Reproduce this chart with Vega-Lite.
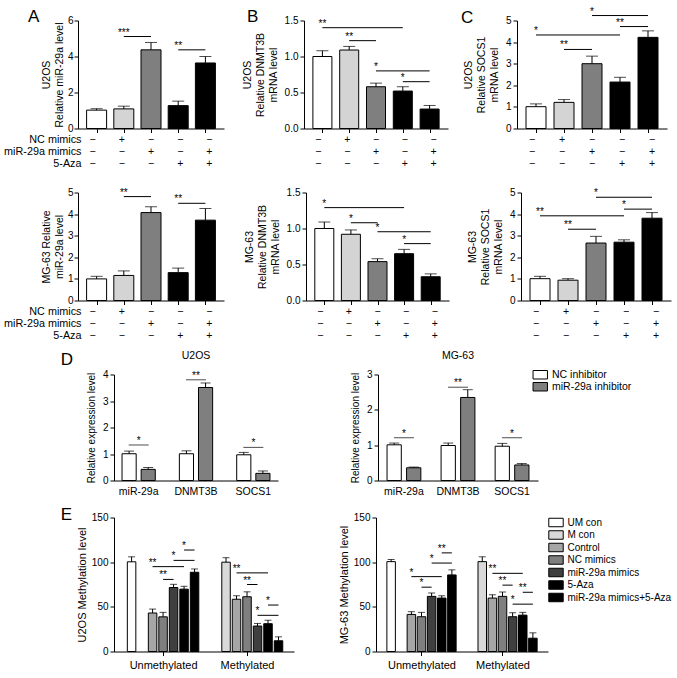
{
"$schema":"https://vega.github.io/schema/vega-lite/v6.json",
"padding":{"left":3,"top":6.5,"right":0,"bottom":0},
"config":{"font":"Liberation Sans","view":{"stroke":null},
"axis":{"domainColor":"#000","tickColor":"#000","labelColor":"#000","titleColor":"#000","grid":false,"labelFontSize":10,"titleFontSize":10.5,"titleFontWeight":"normal","tickSize":4,"labelPadding":2,"titlePadding":6,"titleLineHeight":13,"domainWidth":1,"tickWidth":1,"labelFont":"Liberation Sans","titleFont":"Liberation Sans","labelOverlap":false,"labelFlush":false},
"title":{"fontWeight":"normal","color":"#000","font":"Liberation Sans"},
"legend":{"labelColor":"#000","labelFont":"Liberation Sans"}},
"datasets":{
"mx":[{"pos":1,"row":"NC mimics","sign":"−"},{"pos":1,"row":"miR-29a mimics","sign":"−"},{"pos":1,"row":"5-Aza","sign":"−"},{"pos":2,"row":"NC mimics","sign":"+"},{"pos":2,"row":"miR-29a mimics","sign":"−"},{"pos":2,"row":"5-Aza","sign":"−"},{"pos":3,"row":"NC mimics","sign":"−"},{"pos":3,"row":"miR-29a mimics","sign":"+"},{"pos":3,"row":"5-Aza","sign":"−"},{"pos":4,"row":"NC mimics","sign":"−"},{"pos":4,"row":"miR-29a mimics","sign":"−"},{"pos":4,"row":"5-Aza","sign":"+"},{"pos":5,"row":"NC mimics","sign":"−"},{"pos":5,"row":"miR-29a mimics","sign":"+"},{"pos":5,"row":"5-Aza","sign":"+"}],
"a1":[{"pos":1,"cond":"Control","mean":1.02,"upper":1.10},{"pos":2,"cond":"NC mimics","mean":1.09,"upper":1.24},{"pos":3,"cond":"miR-29a mimics","mean":4.37,"upper":4.78},{"pos":4,"cond":"5-Aza","mean":1.27,"upper":1.52},{"pos":5,"cond":"miR-29a mimics+5-Aza","mean":3.64,"upper":4.00}],
"a2":[{"pos":1,"cond":"Control","mean":1.00,"upper":1.12},{"pos":2,"cond":"NC mimics","mean":1.16,"upper":1.37},{"pos":3,"cond":"miR-29a mimics","mean":4.07,"upper":4.34},{"pos":4,"cond":"5-Aza","mean":1.29,"upper":1.50},{"pos":5,"cond":"miR-29a mimics+5-Aza","mean":3.72,"upper":4.26}],
"b1":[{"pos":1,"cond":"Control","mean":1.00,"upper":1.08},{"pos":2,"cond":"NC mimics","mean":1.09,"upper":1.14},{"pos":3,"cond":"miR-29a mimics","mean":0.58,"upper":0.63},{"pos":4,"cond":"5-Aza","mean":0.52,"upper":0.58},{"pos":5,"cond":"miR-29a mimics+5-Aza","mean":0.27,"upper":0.32}],
"b2":[{"pos":1,"cond":"Control","mean":1.00,"upper":1.09},{"pos":2,"cond":"NC mimics","mean":0.92,"upper":0.98},{"pos":3,"cond":"miR-29a mimics","mean":0.54,"upper":0.58},{"pos":4,"cond":"5-Aza","mean":0.65,"upper":0.71},{"pos":5,"cond":"miR-29a mimics+5-Aza","mean":0.33,"upper":0.37}],
"c1":[{"pos":1,"cond":"Control","mean":1.01,"upper":1.14},{"pos":2,"cond":"NC mimics","mean":1.21,"upper":1.34},{"pos":3,"cond":"miR-29a mimics","mean":3.00,"upper":3.35},{"pos":4,"cond":"5-Aza","mean":2.15,"upper":2.37},{"pos":5,"cond":"miR-29a mimics+5-Aza","mean":4.22,"upper":4.52}],
"c2":[{"pos":1,"cond":"Control","mean":1.01,"upper":1.12},{"pos":2,"cond":"NC mimics","mean":0.94,"upper":1.01},{"pos":3,"cond":"miR-29a mimics","mean":2.66,"upper":2.97},{"pos":4,"cond":"5-Aza","mean":2.70,"upper":2.81},{"pos":5,"cond":"miR-29a mimics+5-Aza","mean":3.81,"upper":4.07}],
"sa1":[{"from":2,"to":3,"y":5.11,"label":"***"},{"from":4,"to":5,"y":4.37,"label":"**"}],
"sa2":[{"from":2,"to":3,"y":4.81,"label":"**"},{"from":4,"to":5,"y":4.5,"label":"**"}],
"sb1":[{"from":1,"to":4,"y":1.40,"label":"**"},{"from":2,"to":3,"y":1.22,"label":"**"},{"from":3,"to":5,"y":0.80,"label":"*"},{"from":4,"to":5,"y":0.65,"label":"*"}],
"sb2":[{"from":1,"to":4,"y":1.29,"label":"*"},{"from":2,"to":3,"y":1.08,"label":"*"},{"from":3,"to":5,"y":0.955,"label":"*"},{"from":4,"to":5,"y":0.79,"label":"*"}],
"sc1":[{"from":3,"to":5,"y":5.23,"label":"*"},{"from":4,"to":5,"y":4.72,"label":"**"},{"from":1,"to":4,"y":4.33,"label":"*"},{"from":2,"to":3,"y":3.66,"label":"**"}],
"sc2":[{"from":3,"to":5,"y":4.78,"label":"*"},{"from":4,"to":5,"y":4.23,"label":"*"},{"from":1,"to":4,"y":3.92,"label":"**"},{"from":2,"to":3,"y":3.30,"label":"**"}],
"d1":[{"gene":"miR-29a","grp":"NC inhibitor","mean":1.01,"upper":1.11},{"gene":"miR-29a","grp":"miR-29a inhibitor","mean":0.42,"upper":0.49},{"gene":"DNMT3B","grp":"NC inhibitor","mean":1.01,"upper":1.12},{"gene":"DNMT3B","grp":"miR-29a inhibitor","mean":3.51,"upper":3.68},{"gene":"SOCS1","grp":"NC inhibitor","mean":0.97,"upper":1.06},{"gene":"SOCS1","grp":"miR-29a inhibitor","mean":0.27,"upper":0.36}],
"d2":[{"gene":"miR-29a","grp":"NC inhibitor","mean":1.01,"upper":1.06},{"gene":"miR-29a","grp":"miR-29a inhibitor","mean":0.36,"upper":0.38},{"gene":"DNMT3B","grp":"NC inhibitor","mean":0.99,"upper":1.06},{"gene":"DNMT3B","grp":"miR-29a inhibitor","mean":2.35,"upper":2.57},{"gene":"SOCS1","grp":"NC inhibitor","mean":0.97,"upper":1.05},{"gene":"SOCS1","grp":"miR-29a inhibitor","mean":0.44,"upper":0.48}],
"ds1":[{"gene":"miR-29a","y":1.34,"label":"*"},{"gene":"DNMT3B","y":3.80,"label":"**"},{"gene":"SOCS1","y":1.25,"label":"*"}],
"ds2":[{"gene":"miR-29a","y":1.21,"label":"*"},{"gene":"DNMT3B","y":2.64,"label":"**"},{"gene":"SOCS1","y":1.21,"label":"*"}],
"e1":[{"status":"Unmethylated","cond":"UM con","pos":1,"mean":100.4,"upper":106},{"status":"Unmethylated","cond":"Control","pos":3,"mean":43.1,"upper":47.5},{"status":"Unmethylated","cond":"NC mimics","pos":4,"mean":38.8,"upper":43.8},{"status":"Unmethylated","cond":"miR-29a mimics","pos":5,"mean":71.6,"upper":75.2},{"status":"Unmethylated","cond":"5-Aza","pos":6,"mean":69.8,"upper":73},{"status":"Unmethylated","cond":"miR-29a mimics+5-Aza","pos":7,"mean":88.7,"upper":92.4},{"status":"Methylated","cond":"M con","pos":10,"mean":100,"upper":105},{"status":"Methylated","cond":"Control","pos":11,"mean":58.5,"upper":62.4},{"status":"Methylated","cond":"NC mimics","pos":12,"mean":61.3,"upper":66.8},{"status":"Methylated","cond":"miR-29a mimics","pos":13,"mean":28.5,"upper":31.4},{"status":"Methylated","cond":"5-Aza","pos":14,"mean":31.1,"upper":35},{"status":"Methylated","cond":"miR-29a mimics+5-Aza","pos":15,"mean":12,"upper":16.4}],
"e2":[{"status":"Unmethylated","cond":"UM con","pos":1,"mean":100.6,"upper":103},{"status":"Unmethylated","cond":"Control","pos":3,"mean":41.5,"upper":44.6},{"status":"Unmethylated","cond":"NC mimics","pos":4,"mean":38.9,"upper":43.8},{"status":"Unmethylated","cond":"miR-29a mimics","pos":5,"mean":61.7,"upper":65.5},{"status":"Unmethylated","cond":"5-Aza","pos":6,"mean":59.8,"upper":62.4},{"status":"Unmethylated","cond":"miR-29a mimics+5-Aza","pos":7,"mean":85.7,"upper":91.4},{"status":"Methylated","cond":"M con","pos":10,"mean":100.6,"upper":106},{"status":"Methylated","cond":"Control","pos":11,"mean":59.8,"upper":63.5},{"status":"Methylated","cond":"NC mimics","pos":12,"mean":61.7,"upper":66.6},{"status":"Methylated","cond":"miR-29a mimics","pos":13,"mean":38.9,"upper":43.4},{"status":"Methylated","cond":"5-Aza","pos":14,"mean":40.7,"upper":43.8},{"status":"Methylated","cond":"miR-29a mimics+5-Aza","pos":15,"mean":14.9,"upper":20.9}],
"es1":[{"from":3,"to":6,"y":95,"label":"**"},{"from":4,"to":5,"y":80.7,"label":"**"},{"from":5,"to":7,"y":102,"label":"*"},{"from":6,"to":7,"y":113.6,"label":"*"},{"from":11,"to":14,"y":88,"label":"**"},{"from":12,"to":13,"y":75,"label":"**"},{"from":13,"to":15,"y":40.5,"label":"*"},{"from":14,"to":15,"y":52,"label":"*"}],
"es2":[{"from":3,"to":6,"y":83.8,"label":"*"},{"from":4,"to":5,"y":72,"label":"*"},{"from":5,"to":7,"y":99,"label":"*"},{"from":6,"to":7,"y":110.4,"label":"**"},{"from":11,"to":14,"y":87.5,"label":"**"},{"from":12,"to":13,"y":74.3,"label":"**"},{"from":13,"to":15,"y":53,"label":"*"},{"from":14,"to":15,"y":66.3,"label":"**"}]
},
"resolve":{"scale":{"color":"independent"}},
"spacing":9,
"vconcat":[
{"spacing":18,"resolve":{"scale":{"color":"independent"}},"vconcat":[
 {"spacing":12,"resolve":{"scale":{"color":"independent"}},"hconcat":[
  {"spacing":18,"resolve":{"scale":{"color":"independent"}},"hconcat":[
   {"spacing":0,"vconcat":[
    {"width":146,"height":108,"resolve":{"axis":{"x":"independent","y":"independent"}},
     "layer":[
      {"data":{"name":"a1"},"mark":{"type":"bar","orient":"vertical","width":20,"stroke":"#000","strokeWidth":1},
       "encoding":{"x":{"field":"pos","type":"quantitative","scale":{"domain":[0.5,5.5]},"axis":{"values":[1,2,3,4,5],"labels":false,"title":null}},
        "y":{"field":"mean","type":"quantitative","scale":{"domain":[0,6]},"axis":{"values":[0,2,4,6],"title":["U2OS","Relative miR-29a level"],"titlePadding":3,"labelPadding":1}},
        "color":{"field":"cond","type":"nominal","scale":{"domain":["Control","NC mimics","miR-29a mimics","5-Aza","miR-29a mimics+5-Aza"],"range":["#ffffff","#d4d4d4","#7f7f7f","#000000","#000000"]},"legend":null}}},
      {"data":{"name":"a1"},"mark":{"type":"rule","color":"#000","strokeWidth":1},"encoding":{"x":{"field":"pos","type":"quantitative","scale":{"domain":[0.5,5.5]},"axis":null},"y":{"field":"mean","type":"quantitative","scale":{"domain":[0,6]},"axis":null},"y2":{"field":"upper"}}},
      {"data":{"name":"a1"},"mark":{"type":"tick","orient":"horizontal","size":12,"thickness":1,"color":"#000"},"encoding":{"x":{"field":"pos","type":"quantitative","scale":{"domain":[0.5,5.5]},"axis":null},"y":{"field":"upper","type":"quantitative","scale":{"domain":[0,6]},"axis":null}}},
      {"data":{"name":"sa1"},"mark":{"type":"rule","color":"#000","strokeWidth":1},"encoding":{"x":{"field":"from","type":"quantitative","scale":{"domain":[0.5,5.5]},"axis":null},"x2":{"field":"to"},"y":{"field":"y","type":"quantitative","scale":{"domain":[0,6]},"axis":null}}},
      {"data":{"name":"sa1"},"mark":{"type":"text","color":"#000","fontSize":10,"baseline":"alphabetic","dy":-1},"encoding":{"x":{"field":"from","type":"quantitative","bin":"binned","scale":{"domain":[0.5,5.5]},"axis":null},"x2":{"field":"to"},"y":{"field":"y","type":"quantitative","scale":{"domain":[0,6]},"axis":null},"text":{"field":"label"}}},
      {"data":{"values":[{"t":"A"}]},"mark":{"type":"text","color":"#000","fontSize":17,"align":"left","baseline":"alphabetic","dx":-55,"dy":1},"encoding":{"x":{"datum":0.5,"type":"quantitative","scale":{"domain":[0.5,5.5]},"axis":null},"y":{"datum":6,"type":"quantitative","scale":{"domain":[0,6]},"axis":null},"text":{"field":"t"}}}
     ]},
    {"data":{"name":"mx"},"width":146,"height":36,"mark":{"type":"text","fontSize":10.5,"color":"#000"},
     "encoding":{"x":{"field":"pos","type":"quantitative","scale":{"domain":[0.5,5.5]},"axis":null},
      "y":{"field":"row","type":"nominal","sort":["NC mimics","miR-29a mimics","5-Aza"],"axis":{"title":null,"domain":false,"ticks":false,"tickSize":0,"labelPadding":-3,"labelFontSize":10.8}},
      "text":{"field":"sign"}}}
   ]},
   {"spacing":0,"vconcat":[
    {"width":144,"height":108,"resolve":{"axis":{"x":"independent","y":"independent"}},
     "layer":[
      {"data":{"name":"b1"},"mark":{"type":"bar","orient":"vertical","width":19,"stroke":"#000","strokeWidth":1},
       "encoding":{"x":{"field":"pos","type":"quantitative","scale":{"domain":[0.5,5.5]},"axis":{"values":[1,2,3,4,5],"labels":false,"title":null}},
        "y":{"field":"mean","type":"quantitative","scale":{"domain":[0,1.5]},"axis":{"values":[0,0.5,1,1.5],"format":".1f","title":["U2OS","Relative DNMT3B","mRNA level"]}},
        "color":{"field":"cond","type":"nominal","scale":{"domain":["Control","NC mimics","miR-29a mimics","5-Aza","miR-29a mimics+5-Aza"],"range":["#ffffff","#d4d4d4","#7f7f7f","#000000","#000000"]},"legend":null}}},
      {"data":{"name":"b1"},"mark":{"type":"rule","color":"#000","strokeWidth":1},"encoding":{"x":{"field":"pos","type":"quantitative","scale":{"domain":[0.5,5.5]},"axis":null},"y":{"field":"mean","type":"quantitative","scale":{"domain":[0,1.5]},"axis":null},"y2":{"field":"upper"}}},
      {"data":{"name":"b1"},"mark":{"type":"tick","orient":"horizontal","size":12,"thickness":1,"color":"#000"},"encoding":{"x":{"field":"pos","type":"quantitative","scale":{"domain":[0.5,5.5]},"axis":null},"y":{"field":"upper","type":"quantitative","scale":{"domain":[0,1.5]},"axis":null}}},
      {"data":{"name":"sb1"},"mark":{"type":"rule","color":"#000","strokeWidth":1},"encoding":{"x":{"field":"from","type":"quantitative","scale":{"domain":[0.5,5.5]},"axis":null},"x2":{"field":"to"},"y":{"field":"y","type":"quantitative","scale":{"domain":[0,1.5]},"axis":null}}},
      {"data":{"name":"sb1"},"mark":{"type":"text","color":"#000","fontSize":10,"baseline":"alphabetic","dy":-1},"encoding":{"x":{"field":"from","type":"quantitative","bin":"binned","scale":{"domain":[0.5,5.5]},"axis":null},"x2":{"field":"to"},"y":{"field":"y","type":"quantitative","scale":{"domain":[0,1.5]},"axis":null},"text":{"field":"label"}}},
      {"data":{"values":[{"t":"B"}]},"mark":{"type":"text","color":"#000","fontSize":17,"align":"left","baseline":"alphabetic","dx":-62,"dy":1},"encoding":{"x":{"datum":0.5,"type":"quantitative","scale":{"domain":[0.5,5.5]},"axis":null},"y":{"datum":1.5,"type":"quantitative","scale":{"domain":[0,1.5]},"axis":null},"text":{"field":"t"}}}
     ]},
    {"data":{"name":"mx"},"width":144,"height":36,"mark":{"type":"text","fontSize":10.5,"color":"#000"},
     "encoding":{"x":{"field":"pos","type":"quantitative","scale":{"domain":[0.5,5.5]},"axis":null},
      "y":{"field":"row","type":"nominal","sort":["NC mimics","miR-29a mimics","5-Aza"],"axis":null},
      "text":{"field":"sign"}}}
   ]}
  ]},
  {"spacing":0,"vconcat":[
   {"width":150,"height":108,"resolve":{"axis":{"x":"independent","y":"independent"}},
    "layer":[
     {"data":{"name":"c1"},"mark":{"type":"bar","orient":"vertical","width":20,"stroke":"#000","strokeWidth":1},
      "encoding":{"x":{"field":"pos","type":"quantitative","scale":{"domain":[0.5,5.5]},"axis":{"values":[1,2,3,4,5],"labels":false,"title":null}},
       "y":{"field":"mean","type":"quantitative","scale":{"domain":[0,5]},"axis":{"values":[0,1,2,3,4,5],"title":["U2OS","Relative SOCS1","mRNA level"]}},
       "color":{"field":"cond","type":"nominal","scale":{"domain":["Control","NC mimics","miR-29a mimics","5-Aza","miR-29a mimics+5-Aza"],"range":["#ffffff","#d4d4d4","#7f7f7f","#000000","#000000"]},"legend":null}}},
     {"data":{"name":"c1"},"mark":{"type":"rule","color":"#000","strokeWidth":1},"encoding":{"x":{"field":"pos","type":"quantitative","scale":{"domain":[0.5,5.5]},"axis":null},"y":{"field":"mean","type":"quantitative","scale":{"domain":[0,5]},"axis":null},"y2":{"field":"upper"}}},
     {"data":{"name":"c1"},"mark":{"type":"tick","orient":"horizontal","size":12,"thickness":1,"color":"#000"},"encoding":{"x":{"field":"pos","type":"quantitative","scale":{"domain":[0.5,5.5]},"axis":null},"y":{"field":"upper","type":"quantitative","scale":{"domain":[0,5]},"axis":null}}},
     {"data":{"name":"sc1"},"mark":{"type":"rule","color":"#000","strokeWidth":1},"encoding":{"x":{"field":"from","type":"quantitative","scale":{"domain":[0.5,5.5]},"axis":null},"x2":{"field":"to"},"y":{"field":"y","type":"quantitative","scale":{"domain":[0,5]},"axis":null}}},
     {"data":{"name":"sc1"},"mark":{"type":"text","color":"#000","fontSize":10,"baseline":"alphabetic","dy":-1},"encoding":{"x":{"field":"from","type":"quantitative","bin":"binned","scale":{"domain":[0.5,5.5]},"axis":null},"x2":{"field":"to"},"y":{"field":"y","type":"quantitative","scale":{"domain":[0,5]},"axis":null},"text":{"field":"label"}}},
     {"data":{"values":[{"t":"C"}]},"mark":{"type":"text","color":"#000","fontSize":17,"align":"left","baseline":"alphabetic","dx":-61,"dy":2.5},"encoding":{"x":{"datum":0.5,"type":"quantitative","scale":{"domain":[0.5,5.5]},"axis":null},"y":{"datum":5,"type":"quantitative","scale":{"domain":[0,5]},"axis":null},"text":{"field":"t"}}}
    ]},
   {"data":{"name":"mx"},"width":150,"height":36,"mark":{"type":"text","fontSize":10.5,"color":"#000"},
    "encoding":{"x":{"field":"pos","type":"quantitative","scale":{"domain":[0.5,5.5]},"axis":null},
     "y":{"field":"row","type":"nominal","sort":["NC mimics","miR-29a mimics","5-Aza"],"axis":null},
     "text":{"field":"sign"}}}
  ]}
 ]},
 {"spacing":18,"resolve":{"scale":{"color":"independent"}},"hconcat":[
  {"spacing":20,"resolve":{"scale":{"color":"independent"}},"hconcat":[
   {"spacing":0,"vconcat":[
    {"width":146,"height":108,"resolve":{"axis":{"x":"independent","y":"independent"}},
     "layer":[
      {"data":{"name":"a2"},"mark":{"type":"bar","orient":"vertical","width":20,"stroke":"#000","strokeWidth":1},
       "encoding":{"x":{"field":"pos","type":"quantitative","scale":{"domain":[0.5,5.5]},"axis":{"values":[1,2,3,4,5],"labels":false,"title":null}},
        "y":{"field":"mean","type":"quantitative","scale":{"domain":[0,5]},"axis":{"values":[0,1,2,3,4,5],"title":["MG-63 Relative","miR-29a level"],"titlePadding":3,"labelPadding":1}},
        "color":{"field":"cond","type":"nominal","scale":{"domain":["Control","NC mimics","miR-29a mimics","5-Aza","miR-29a mimics+5-Aza"],"range":["#ffffff","#d4d4d4","#7f7f7f","#000000","#000000"]},"legend":null}}},
      {"data":{"name":"a2"},"mark":{"type":"rule","color":"#000","strokeWidth":1},"encoding":{"x":{"field":"pos","type":"quantitative","scale":{"domain":[0.5,5.5]},"axis":null},"y":{"field":"mean","type":"quantitative","scale":{"domain":[0,5]},"axis":null},"y2":{"field":"upper"}}},
      {"data":{"name":"a2"},"mark":{"type":"tick","orient":"horizontal","size":12,"thickness":1,"color":"#000"},"encoding":{"x":{"field":"pos","type":"quantitative","scale":{"domain":[0.5,5.5]},"axis":null},"y":{"field":"upper","type":"quantitative","scale":{"domain":[0,5]},"axis":null}}},
      {"data":{"name":"sa2"},"mark":{"type":"rule","color":"#000","strokeWidth":1},"encoding":{"x":{"field":"from","type":"quantitative","scale":{"domain":[0.5,5.5]},"axis":null},"x2":{"field":"to"},"y":{"field":"y","type":"quantitative","scale":{"domain":[0,5]},"axis":null}}},
      {"data":{"name":"sa2"},"mark":{"type":"text","color":"#000","fontSize":10,"baseline":"alphabetic","dy":-1},"encoding":{"x":{"field":"from","type":"quantitative","bin":"binned","scale":{"domain":[0.5,5.5]},"axis":null},"x2":{"field":"to"},"y":{"field":"y","type":"quantitative","scale":{"domain":[0,5]},"axis":null},"text":{"field":"label"}}}
     ]},
    {"data":{"name":"mx"},"width":146,"height":36,"mark":{"type":"text","fontSize":10.5,"color":"#000"},
     "encoding":{"x":{"field":"pos","type":"quantitative","scale":{"domain":[0.5,5.5]},"axis":null},
      "y":{"field":"row","type":"nominal","sort":["NC mimics","miR-29a mimics","5-Aza"],"axis":{"title":null,"domain":false,"ticks":false,"tickSize":0,"labelPadding":-3,"labelFontSize":10.8}},
      "text":{"field":"sign"}}}
   ]},
   {"spacing":0,"vconcat":[
    {"width":143,"height":108,"resolve":{"axis":{"x":"independent","y":"independent"}},
     "layer":[
      {"data":{"name":"b2"},"mark":{"type":"bar","orient":"vertical","width":19,"stroke":"#000","strokeWidth":1},
       "encoding":{"x":{"field":"pos","type":"quantitative","scale":{"domain":[0.5,5.5]},"axis":{"values":[1,2,3,4,5],"labels":false,"title":null}},
        "y":{"field":"mean","type":"quantitative","scale":{"domain":[0,1.5]},"axis":{"values":[0,0.5,1,1.5],"format":".1f","title":["MG-63","Relative DNMT3B","mRNA level"]}},
        "color":{"field":"cond","type":"nominal","scale":{"domain":["Control","NC mimics","miR-29a mimics","5-Aza","miR-29a mimics+5-Aza"],"range":["#ffffff","#d4d4d4","#7f7f7f","#000000","#000000"]},"legend":null}}},
      {"data":{"name":"b2"},"mark":{"type":"rule","color":"#000","strokeWidth":1},"encoding":{"x":{"field":"pos","type":"quantitative","scale":{"domain":[0.5,5.5]},"axis":null},"y":{"field":"mean","type":"quantitative","scale":{"domain":[0,1.5]},"axis":null},"y2":{"field":"upper"}}},
      {"data":{"name":"b2"},"mark":{"type":"tick","orient":"horizontal","size":12,"thickness":1,"color":"#000"},"encoding":{"x":{"field":"pos","type":"quantitative","scale":{"domain":[0.5,5.5]},"axis":null},"y":{"field":"upper","type":"quantitative","scale":{"domain":[0,1.5]},"axis":null}}},
      {"data":{"name":"sb2"},"mark":{"type":"rule","color":"#000","strokeWidth":1},"encoding":{"x":{"field":"from","type":"quantitative","scale":{"domain":[0.5,5.5]},"axis":null},"x2":{"field":"to"},"y":{"field":"y","type":"quantitative","scale":{"domain":[0,1.5]},"axis":null}}},
      {"data":{"name":"sb2"},"mark":{"type":"text","color":"#000","fontSize":10,"baseline":"alphabetic","dy":-1},"encoding":{"x":{"field":"from","type":"quantitative","bin":"binned","scale":{"domain":[0.5,5.5]},"axis":null},"x2":{"field":"to"},"y":{"field":"y","type":"quantitative","scale":{"domain":[0,1.5]},"axis":null},"text":{"field":"label"}}}
     ]},
    {"data":{"name":"mx"},"width":143,"height":36,"mark":{"type":"text","fontSize":10.5,"color":"#000"},
     "encoding":{"x":{"field":"pos","type":"quantitative","scale":{"domain":[0.5,5.5]},"axis":null},
      "y":{"field":"row","type":"nominal","sort":["NC mimics","miR-29a mimics","5-Aza"],"axis":null},
      "text":{"field":"sign"}}}
   ]}
  ]},
  {"spacing":0,"vconcat":[
   {"width":150,"height":108,"resolve":{"axis":{"x":"independent","y":"independent"}},
    "layer":[
     {"data":{"name":"c2"},"mark":{"type":"bar","orient":"vertical","width":20,"stroke":"#000","strokeWidth":1},
      "encoding":{"x":{"field":"pos","type":"quantitative","scale":{"domain":[0.5,5.5]},"axis":{"values":[1,2,3,4,5],"labels":false,"title":null}},
       "y":{"field":"mean","type":"quantitative","scale":{"domain":[0,5]},"axis":{"values":[0,1,2,3,4,5],"title":["MG-63","Relative SOCS1","mRNA level"]}},
       "color":{"field":"cond","type":"nominal","scale":{"domain":["Control","NC mimics","miR-29a mimics","5-Aza","miR-29a mimics+5-Aza"],"range":["#ffffff","#d4d4d4","#7f7f7f","#000000","#000000"]},"legend":null}}},
     {"data":{"name":"c2"},"mark":{"type":"rule","color":"#000","strokeWidth":1},"encoding":{"x":{"field":"pos","type":"quantitative","scale":{"domain":[0.5,5.5]},"axis":null},"y":{"field":"mean","type":"quantitative","scale":{"domain":[0,5]},"axis":null},"y2":{"field":"upper"}}},
     {"data":{"name":"c2"},"mark":{"type":"tick","orient":"horizontal","size":12,"thickness":1,"color":"#000"},"encoding":{"x":{"field":"pos","type":"quantitative","scale":{"domain":[0.5,5.5]},"axis":null},"y":{"field":"upper","type":"quantitative","scale":{"domain":[0,5]},"axis":null}}},
     {"data":{"name":"sc2"},"mark":{"type":"rule","color":"#000","strokeWidth":1},"encoding":{"x":{"field":"from","type":"quantitative","scale":{"domain":[0.5,5.5]},"axis":null},"x2":{"field":"to"},"y":{"field":"y","type":"quantitative","scale":{"domain":[0,5]},"axis":null}}},
     {"data":{"name":"sc2"},"mark":{"type":"text","color":"#000","fontSize":10,"baseline":"alphabetic","dy":-1},"encoding":{"x":{"field":"from","type":"quantitative","bin":"binned","scale":{"domain":[0.5,5.5]},"axis":null},"x2":{"field":"to"},"y":{"field":"y","type":"quantitative","scale":{"domain":[0,5]},"axis":null},"text":{"field":"label"}}}
    ]},
   {"data":{"name":"mx"},"width":150,"height":36,"mark":{"type":"text","fontSize":10.5,"color":"#000"},
    "encoding":{"x":{"field":"pos","type":"quantitative","scale":{"domain":[0.5,5.5]},"axis":null},
     "y":{"field":"row","type":"nominal","sort":["NC mimics","miR-29a mimics","5-Aza"],"axis":null},
     "text":{"field":"sign"}}}
  ]}
 ]}
]},
{"spacing":8,"resolve":{"scale":{"color":"independent"}},"vconcat":[
 {"spacing":7,"resolve":{"scale":{"color":"independent"}},"hconcat":[
  {"width":1,"height":1,"data":{"values":[{"t":"D"}]},"mark":{"type":"text","color":"#000","fontSize":17,"align":"left","baseline":"alphabetic","dx":-17.8,"dy":-10.5},"encoding":{"text":{"field":"t"}}},
  {"spacing":72,"resolve":{"scale":{"color":"independent","xOffset":"independent"}},"hconcat":[
   {"width":164,"height":106,"resolve":{"axis":{"x":"independent","y":"independent"}},
    "title":{"text":"U2OS","fontSize":10.5,"offset":8,"anchor":"middle","frame":"group"},
    "layer":[
     {"data":{"name":"d1"},"mark":{"type":"bar","stroke":"#000","strokeWidth":1},
      "encoding":{"x":{"field":"gene","type":"nominal","sort":["miR-29a","DNMT3B","SOCS1"],"scale":{"paddingInner":0.4,"paddingOuter":0.13},"axis":{"title":null,"ticks":false,"labelPadding":6,"labelAngle":0,"labelFontSize":10.5}},
       "xOffset":{"field":"grp","type":"nominal","sort":["NC inhibitor","miR-29a inhibitor"],"scale":{"paddingInner":0.26,"paddingOuter":0.03}},
       "y":{"field":"mean","type":"quantitative","scale":{"domain":[0,4]},"axis":{"values":[0,1,2,3,4],"title":"Relative expression level","titleFontSize":10}},
       "color":{"field":"grp","type":"nominal","scale":{"domain":["NC inhibitor","miR-29a inhibitor"],"range":["#ffffff","#7f7f7f"]},"legend":null}}},
     {"data":{"name":"d1"},"mark":{"type":"rule","color":"#000","strokeWidth":1},
      "encoding":{"x":{"field":"gene","type":"nominal","sort":["miR-29a","DNMT3B","SOCS1"],"scale":{"paddingInner":0.4,"paddingOuter":0.13},"axis":null},"xOffset":{"field":"grp","type":"nominal","sort":["NC inhibitor","miR-29a inhibitor"],"scale":{"paddingInner":0.26,"paddingOuter":0.03}},"y":{"field":"mean","type":"quantitative","scale":{"domain":[0,4]},"axis":null},"y2":{"field":"upper"}}},
     {"data":{"name":"d1"},"mark":{"type":"tick","orient":"horizontal","size":10,"thickness":1,"color":"#000"},
      "encoding":{"x":{"field":"gene","type":"nominal","sort":["miR-29a","DNMT3B","SOCS1"],"scale":{"paddingInner":0.4,"paddingOuter":0.13},"axis":null},"xOffset":{"field":"grp","type":"nominal","sort":["NC inhibitor","miR-29a inhibitor"],"scale":{"paddingInner":0.26,"paddingOuter":0.03}},"y":{"field":"upper","type":"quantitative","scale":{"domain":[0,4]},"axis":null}}},
     {"data":{"name":"ds1"},"mark":{"type":"tick","orient":"horizontal","size":20,"thickness":1,"color":"#000"},
      "encoding":{"x":{"field":"gene","type":"nominal","sort":["miR-29a","DNMT3B","SOCS1"],"scale":{"paddingInner":0.4,"paddingOuter":0.13},"axis":null},"y":{"field":"y","type":"quantitative","scale":{"domain":[0,4]},"axis":null}}},
     {"data":{"name":"ds1"},"mark":{"type":"text","color":"#000","fontSize":10,"baseline":"alphabetic","dy":-1},
      "encoding":{"x":{"field":"gene","type":"nominal","sort":["miR-29a","DNMT3B","SOCS1"],"scale":{"paddingInner":0.4,"paddingOuter":0.13},"axis":null},"y":{"field":"y","type":"quantitative","scale":{"domain":[0,4]},"axis":null},"text":{"field":"label"}}}
    ]},
   {"width":160,"height":106,"resolve":{"axis":{"x":"independent","y":"independent"}},
    "title":{"text":"MG-63","fontSize":10.5,"offset":8,"anchor":"middle","frame":"group"},
    "layer":[
     {"data":{"name":"d2"},"mark":{"type":"bar","stroke":"#000","strokeWidth":1},
      "encoding":{"x":{"field":"gene","type":"nominal","sort":["miR-29a","DNMT3B","SOCS1"],"scale":{"paddingInner":0.36,"paddingOuter":0.16},"axis":{"title":null,"ticks":false,"labelPadding":6,"labelAngle":0,"labelFontSize":10.5}},
       "xOffset":{"field":"grp","type":"nominal","sort":["NC inhibitor","miR-29a inhibitor"],"scale":{"paddingInner":0.27,"paddingOuter":0.02}},
       "y":{"field":"mean","type":"quantitative","scale":{"domain":[0,3]},"axis":{"values":[0,1,2,3],"title":"Relative expression level","titleFontSize":10}},
       "color":{"field":"grp","type":"nominal","scale":{"domain":["NC inhibitor","miR-29a inhibitor"],"range":["#ffffff","#7f7f7f"]},
        "legend":{"title":null,"orient":"right","offset":1.5,"padding":-5,"symbolType":"M-1.7,-1H1.7V1H-1.7Z","symbolSize":72,"symbolStrokeColor":"#000","symbolStrokeWidth":1,"labelFontSize":10.5,"labelOffset":6.5,"rowPadding":-2.5}}}},
     {"data":{"name":"d2"},"mark":{"type":"rule","color":"#000","strokeWidth":1},
      "encoding":{"x":{"field":"gene","type":"nominal","sort":["miR-29a","DNMT3B","SOCS1"],"scale":{"paddingInner":0.36,"paddingOuter":0.16},"axis":null},"xOffset":{"field":"grp","type":"nominal","sort":["NC inhibitor","miR-29a inhibitor"],"scale":{"paddingInner":0.27,"paddingOuter":0.02}},"y":{"field":"mean","type":"quantitative","scale":{"domain":[0,3]},"axis":null},"y2":{"field":"upper"}}},
     {"data":{"name":"d2"},"mark":{"type":"tick","orient":"horizontal","size":10,"thickness":1,"color":"#000"},
      "encoding":{"x":{"field":"gene","type":"nominal","sort":["miR-29a","DNMT3B","SOCS1"],"scale":{"paddingInner":0.36,"paddingOuter":0.16},"axis":null},"xOffset":{"field":"grp","type":"nominal","sort":["NC inhibitor","miR-29a inhibitor"],"scale":{"paddingInner":0.27,"paddingOuter":0.02}},"y":{"field":"upper","type":"quantitative","scale":{"domain":[0,3]},"axis":null}}},
     {"data":{"name":"ds2"},"mark":{"type":"tick","orient":"horizontal","size":20,"thickness":1,"color":"#000"},
      "encoding":{"x":{"field":"gene","type":"nominal","sort":["miR-29a","DNMT3B","SOCS1"],"scale":{"paddingInner":0.36,"paddingOuter":0.16},"axis":null},"y":{"field":"y","type":"quantitative","scale":{"domain":[0,3]},"axis":null}}},
     {"data":{"name":"ds2"},"mark":{"type":"text","color":"#000","fontSize":10,"baseline":"alphabetic","dy":-1},
      "encoding":{"x":{"field":"gene","type":"nominal","sort":["miR-29a","DNMT3B","SOCS1"],"scale":{"paddingInner":0.36,"paddingOuter":0.16},"axis":null},"y":{"field":"y","type":"quantitative","scale":{"domain":[0,3]},"axis":null},"text":{"field":"label"}}}
    ]}
  ]}
 ]},
 {"spacing":-3,"resolve":{"scale":{"color":"independent"}},"hconcat":[
  {"width":1,"height":1,"data":{"values":[{"t":"E"}]},"mark":{"type":"text","color":"#000","fontSize":17,"align":"left","baseline":"alphabetic","dx":-17.8,"dy":1.5},"encoding":{"text":{"field":"t"}}},
  {"spacing":44,"resolve":{"scale":{"color":"independent"}},"hconcat":[
   {"width":180,"height":134,"resolve":{"axis":{"x":"independent","y":"independent"}},
    "layer":[
     {"data":{"name":"e1"},"mark":{"type":"bar","orient":"vertical","width":8.5,"stroke":"#000","strokeWidth":1},
      "encoding":{"x":{"field":"pos","type":"quantitative","scale":{"domain":[-0.2,16]},"axis":{"values":[4,12],"title":null,"labelExpr":"datum.value < 8 ? 'Unmethylated' : 'Methylated'","labelFontSize":11,"labelPadding":4}},
       "y":{"field":"mean","type":"quantitative","scale":{"domain":[0,150]},"axis":{"values":[0,50,100,150],"title":"U2OS Methylation level","titleFontSize":11,"titlePadding":4}},
       "color":{"field":"cond","type":"nominal","scale":{"domain":["UM con","M con","Control","NC mimics","miR-29a mimics","5-Aza","miR-29a mimics+5-Aza"],"range":["#ffffff","#d9d9d9","#a6a6a6","#7f7f7f","#3f3f3f","#000000","#000000"]},"legend":null}}},
     {"data":{"name":"e1"},"mark":{"type":"rule","color":"#000","strokeWidth":1},"encoding":{"x":{"field":"pos","type":"quantitative","scale":{"domain":[-0.2,16]},"axis":null},"y":{"field":"mean","type":"quantitative","scale":{"domain":[0,150]},"axis":null},"y2":{"field":"upper"}}},
     {"data":{"name":"e1"},"mark":{"type":"tick","orient":"horizontal","size":7,"thickness":1,"color":"#000"},"encoding":{"x":{"field":"pos","type":"quantitative","scale":{"domain":[-0.2,16]},"axis":null},"y":{"field":"upper","type":"quantitative","scale":{"domain":[0,150]},"axis":null}}},
     {"data":{"name":"es1"},"mark":{"type":"rule","color":"#000","strokeWidth":1},"encoding":{"x":{"field":"from","type":"quantitative","scale":{"domain":[-0.2,16]},"axis":null},"x2":{"field":"to"},"y":{"field":"y","type":"quantitative","scale":{"domain":[0,150]},"axis":null}}},
     {"data":{"name":"es1"},"mark":{"type":"text","color":"#000","fontSize":10,"baseline":"alphabetic","dy":-1},"encoding":{"x":{"field":"from","type":"quantitative","bin":"binned","scale":{"domain":[-0.2,16]},"axis":null},"x2":{"field":"to"},"y":{"field":"y","type":"quantitative","scale":{"domain":[0,150]},"axis":null},"text":{"field":"label"}}}
    ]},
   {"width":172,"height":134,"resolve":{"axis":{"x":"independent","y":"independent"}},
    "layer":[
     {"data":{"name":"e2"},"mark":{"type":"bar","orient":"vertical","width":8.5,"stroke":"#000","strokeWidth":1},
      "encoding":{"x":{"field":"pos","type":"quantitative","scale":{"domain":[0,16]},"axis":{"values":[4,12],"title":null,"labelExpr":"datum.value < 8 ? 'Unmethylated' : 'Methylated'","labelFontSize":11,"labelPadding":4}},
       "y":{"field":"mean","type":"quantitative","scale":{"domain":[0,150]},"axis":{"values":[0,50,100,150],"title":"MG-63  Methylation level","titleFontSize":11,"titlePadding":4}},
       "color":{"field":"cond","type":"nominal","scale":{"domain":["UM con","M con","Control","NC mimics","miR-29a mimics","5-Aza","miR-29a mimics+5-Aza"],"range":["#ffffff","#d9d9d9","#a6a6a6","#7f7f7f","#3f3f3f","#000000","#000000"]},
        "legend":{"title":null,"orient":"right","offset":3,"padding":0,"symbolType":"M-1.7,-1H1.7V1H-1.7Z","symbolSize":72,"symbolStrokeColor":"#000","symbolStrokeWidth":1,"labelFontSize":10,"labelOffset":6.5,"rowPadding":-1.5}}}},
     {"data":{"name":"e2"},"mark":{"type":"rule","color":"#000","strokeWidth":1},"encoding":{"x":{"field":"pos","type":"quantitative","scale":{"domain":[0,16]},"axis":null},"y":{"field":"mean","type":"quantitative","scale":{"domain":[0,150]},"axis":null},"y2":{"field":"upper"}}},
     {"data":{"name":"e2"},"mark":{"type":"tick","orient":"horizontal","size":7,"thickness":1,"color":"#000"},"encoding":{"x":{"field":"pos","type":"quantitative","scale":{"domain":[0,16]},"axis":null},"y":{"field":"upper","type":"quantitative","scale":{"domain":[0,150]},"axis":null}}},
     {"data":{"name":"es2"},"mark":{"type":"rule","color":"#000","strokeWidth":1},"encoding":{"x":{"field":"from","type":"quantitative","scale":{"domain":[0,16]},"axis":null},"x2":{"field":"to"},"y":{"field":"y","type":"quantitative","scale":{"domain":[0,150]},"axis":null}}},
     {"data":{"name":"es2"},"mark":{"type":"text","color":"#000","fontSize":10,"baseline":"alphabetic","dy":-1},"encoding":{"x":{"field":"from","type":"quantitative","bin":"binned","scale":{"domain":[0,16]},"axis":null},"x2":{"field":"to"},"y":{"field":"y","type":"quantitative","scale":{"domain":[0,150]},"axis":null},"text":{"field":"label"}}}
    ]}
  ]}
 ]}
]}
]
}
